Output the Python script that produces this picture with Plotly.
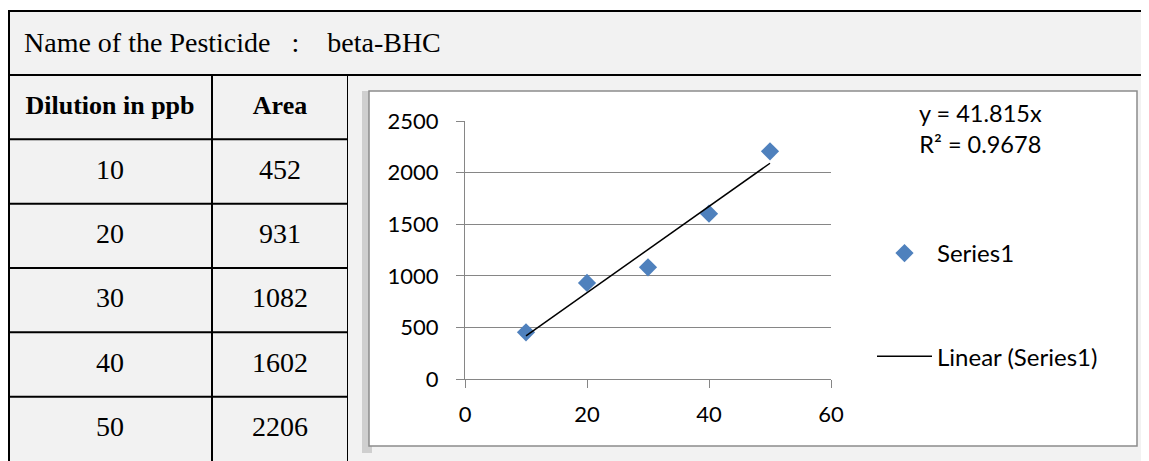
import plotly.graph_objects as go

# ---------------- data ----------------
pesticide = "beta-BHC"
dilution = [10, 20, 30, 40, 50]
area = [452, 931, 1082, 1602, 2206]
header = ["Dilution in ppb", "Area"]
series_name = "Series1"
trend_name = "Linear (Series1)"
x_ticks = [0, 20, 40, 60]
y_ticks = [0, 500, 1000, 1500, 2000, 2500]

# trendline through origin (Excel style) computed from data
slope = sum(x * y for x, y in zip(dilution, area)) / sum(x * x for x in dilution)
mean_y = sum(area) / len(area)
ss_tot = sum((y - mean_y) ** 2 for y in area)
ss_res = sum((y - slope * x) ** 2 for x, y in zip(dilution, area))
r2 = 1 - ss_res / ss_tot
trend_x = [min(dilution), max(dilution)]
trend_y = [slope * x for x in trend_x]

# ---------------- layout helpers ----------------
# the page body adds an 8px margin, so the figure is offset by (8, 8)
OX, OY = 8, 8
W, H = 1149 - OX, 461 - OY
def px(x):
    return (x - OX) / W
def py(y):
    return 1 - (y - OY) / H

GRAY_BG = "#f2f2f2"
GRID = "#868686"
SERIF = "Liberation Serif, Times New Roman, serif"
SANS = "Lato, Calibri, sans-serif"

fig = go.Figure()

# ---------- chart ----------
fig.add_trace(go.Scatter(
    x=dilution, y=area, mode="markers", name=series_name,
    marker=dict(symbol="diamond", size=14, color="#4f81bd"),
    legendgroup="a", xaxis="x", yaxis="y", hoverinfo="skip"))
fig.add_trace(go.Scatter(
    x=trend_x, y=trend_y, mode="lines", name=trend_name,
    line=dict(color="black", width=1.5),
    legendgroup="b", xaxis="x", yaxis="y", hoverinfo="skip"))

# ---------- table (text on a hidden helper axis) ----------
col_edges = [0, 204, 340]
col_centers = [(col_edges[i] + col_edges[i + 1]) / 2 for i in range(2)]
n_rows = len(dilution) + 1

fig.add_trace(go.Scatter(
    x=col_centers, y=[0.5, 0.5], mode="text", text=[f"<b>{h}</b>" for h in header],
    textfont=dict(family=SERIF, size=26, color="black"),
    xaxis="x2", yaxis="y2", showlegend=False, hoverinfo="skip", cliponaxis=False))
row_pos = [i + 1.5 for i in range(len(dilution))]
fig.add_trace(go.Scatter(
    x=[col_centers[0]] * len(dilution), y=row_pos, mode="text",
    text=[str(v) for v in dilution],
    textfont=dict(family=SERIF, size=28, color="black"),
    xaxis="x2", yaxis="y2", showlegend=False, hoverinfo="skip", cliponaxis=False))
fig.add_trace(go.Scatter(
    x=[col_centers[1]] * len(area), y=row_pos, mode="text",
    text=[str(v) for v in area],
    textfont=dict(family=SERIF, size=28, color="black"),
    xaxis="x2", yaxis="y2", showlegend=False, hoverinfo="skip", cliponaxis=False))

shapes = []
# outer frame (gray)
shapes.append(dict(type="rect", xref="paper", yref="paper",
                   x0=px(9), x1=px(1170), y0=py(480), y1=py(11),
                   fillcolor=GRAY_BG, line=dict(color="black", width=2), layer="below"))
# title row divider
shapes.append(dict(type="line", xref="paper", yref="paper",
                   x0=px(8), x1=px(1170), y0=py(75), y1=py(75),
                   line=dict(color="black", width=2), layer="below"))
# chart box shadow and box
shapes.append(dict(type="rect", xref="paper", yref="paper",
                   x0=px(362), x1=px(372), y0=py(453), y1=py(91),
                   fillcolor="#cfcfcf", line=dict(width=0), layer="below"))
shapes.append(dict(type="rect", xref="paper", yref="paper",
                   x0=px(369), x1=px(1137), y0=py(446), y1=py(91),
                   fillcolor="white", line=dict(color="#8c8c8c", width=1.5), layer="below"))
# table grid lines on helper axis
for r in range(1, n_rows):
    shapes.append(dict(type="line", xref="x2", yref="y2",
                       x0=col_edges[0], x1=col_edges[-1], y0=r, y1=r,
                       line=dict(color="black", width=2), layer="below"))
for c in col_edges[1:]:
    shapes.append(dict(type="line", xref="x2", yref="y2",
                       x0=c, x1=c, y0=0, y1=n_rows + 0.2,
                       line=dict(color="black", width=2), layer="below"))

NB = "\u00a0"
annotations = [
    dict(xref="paper", yref="paper", x=px(22), y=py(43), xanchor="left", yanchor="middle",
         text=f"Name of the Pesticide{NB*3}:{NB*4}{pesticide}", showarrow=False,
         font=dict(family=SERIF, size=28, color="black")),
    dict(xref="paper", yref="paper", x=px(980), y=py(128), xanchor="center", yanchor="middle",
         text=f"y = {slope:.3f}x<br>R² = {r2:.4f}", showarrow=False, align="center",
         font=dict(family=SANS, size=23.5, color="black")),
]

fig.update_layout(
    template="none",
    width=W, height=H,
    margin=dict(l=0, r=0, t=0, b=0, pad=0, autoexpand=False),
    paper_bgcolor="white", plot_bgcolor="white",
    shapes=shapes, annotations=annotations,
    font=dict(family=SANS, size=22, color="black"),
    xaxis=dict(domain=[px(465), px(831)], range=[0, 60], tickvals=x_ticks,
               showgrid=False, zeroline=False, showline=True, linecolor=GRID, linewidth=1,
               ticks="outside", ticklen=8, tickcolor=GRID, ticklabelstandoff=8,
               automargin=False,
               tickfont=dict(family=SANS, size=22, color="black"), anchor="y"),
    yaxis=dict(domain=[py(379), py(121)], range=[0, 2500], tickvals=y_ticks,
               showgrid=True, gridcolor=GRID, gridwidth=1, zeroline=False,
               showline=True, linecolor=GRID, linewidth=1,
               ticks="outside", ticklen=8, tickcolor=GRID, ticklabelstandoff=13,
               automargin=False,
               tickfont=dict(family=SANS, size=22, color="black"), anchor="x"),
    xaxis2=dict(domain=[px(8), px(348)], range=[col_edges[0], col_edges[-1]],
                visible=False, anchor="y2", fixedrange=True, automargin=False),
    yaxis2=dict(domain=[0, py(75)], range=[n_rows, 0], visible=False,
                anchor="x2", fixedrange=True, automargin=False),
    legend=dict(x=px(872), y=py(231), xanchor="left", yanchor="top",
                bgcolor="rgba(0,0,0,0)", tracegroupgap=69, itemwidth=55,
                font=dict(family=SANS, size=24, color="black")),
    showlegend=True,
)

fig.write_html("out.html")
